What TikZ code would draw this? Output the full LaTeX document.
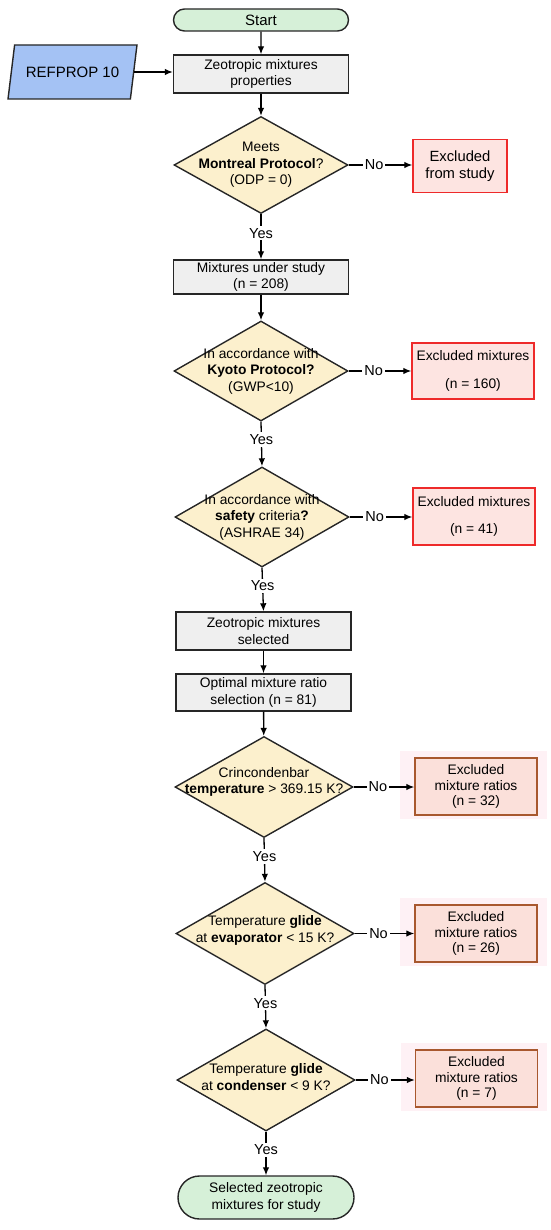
\documentclass[tikz,border=0pt]{standalone}
\usepackage{fontspec}
\setmainfont{Liberation Sans}
\usetikzlibrary{shapes.geometric,shapes.misc,arrows.meta,calc,backgrounds}

\definecolor{startg}{HTML}{D6F0D8}
\definecolor{boxg}{HTML}{EFEFEF}
\definecolor{diay}{HTML}{FCF0CD}
\definecolor{refb}{HTML}{A4C2F4}
\definecolor{exfill}{HTML}{FDE4E1}
\definecolor{exred}{HTML}{EE2A2A}
\definecolor{exbrown}{HTML}{A8582E}
\definecolor{exfilltwo}{HTML}{FBE0DA}
\definecolor{glowc}{HTML}{FEF1F5}

\begin{document}
\begin{tikzpicture}[x=1pt,y=-1pt,
 font=\fontsize{13.8}{16.5}\selectfont,
 every node/.style={inner sep=0pt},
 ln/.style={draw=black!85, line width=1.4pt},
 pill/.style={rounded rectangle, ln, fill=startg, align=center},
 procbox/.style={rectangle, ln, fill=boxg, align=center, minimum width=175pt},
 dia/.style={diamond, ln, fill=diay, minimum width=174pt, minimum height=100pt},
 diatext/.style={align=center},
 exbox/.style={rectangle, draw=exred, line width=1.4pt, fill=exfill, align=center, minimum width=122pt, minimum height=56pt},
 exboxb/.style={rectangle, draw=exbrown, line width=1.4pt, fill=exfilltwo, align=center, minimum width=122pt, minimum height=57pt, font=\fontsize{13.8}{15.5}\selectfont},
 arr/.style={draw=black, line width=1.3pt, -{Latex[length=8pt,width=6.5pt]}},
 lbl/.style={fill=white, inner sep=2pt, font=\fontsize{14.5}{16}\selectfont}
]
\useasboundingbox (0,0) rectangle (550,1230);

% nodes
\node[pill, minimum width=175pt, minimum height=22pt, font=\fontsize{15}{17}\selectfont] (start) at (261,20) {Start};
\node[trapezium, trapezium left angle=63.4, trapezium right angle=116.6, trapezium stretches=true, minimum width=129pt, minimum height=54pt, ln, fill=refb, font=\fontsize{15}{17}\selectfont] (ref) at (72.5,72) {REFPROP 10};
\node[procbox, minimum height=38pt] (b1) at (261,74) {Zeotropic mixtures\\properties};

\node[dia, minimum height=97pt] (d1) at (261,165) {};
\node[diatext] (d1t) at (d1) {Meets\\\textbf{Montreal Protocol}?\\(ODP = 0)};
\node[exbox, minimum width=94pt, minimum height=53pt, font=\fontsize{14.8}{16.5}\selectfont] (e1) at (460,166) {Excluded\\from study};

\node[procbox, minimum height=34pt] (b2) at (261,277) {Mixtures under study\\(n = 208)};

\node[dia] (d2) at (261,371) {};
\node[diatext] (d2t) at (d2) {In accordance with\\\textbf{Kyoto Protocol?}\\(GWP<10)};
\node[exbox] (e2) at (473,371) {Excluded mixtures\\[11pt](n = 160)};

\node[dia] (d3) at (262,517) {};
\node[diatext] (d3t) at (d3) {In accordance with\\\textbf{safety} criteria\textbf{?}\\(ASHRAE 34)};
\node[exbox, minimum height=57pt] (e3) at (474,516.5) {Excluded mixtures\\[11pt](n = 41)};

\node[procbox, minimum height=38pt] (b3) at (263.5,631) {Zeotropic mixtures\\selected};
\node[procbox, minimum height=37pt] (b4) at (263.5,692.5) {Optimal mixture ratio\\selection (n = 81)};

\node[dia, minimum width=178pt, minimum height=101pt] (d4) at (264,787) {};
\node[diatext] (d4t) at ($(d4)+(0,-5)$) {Crincondenbar\\\textbf{temperature} > 369.15 K?};
\node[exboxb] (e4) at (476,786.5) {Excluded\\mixture ratios\\(n = 32)};

\node[dia, minimum width=178pt, minimum height=102pt] (d5) at (265,933.5) {};
\node[diatext] (d5t) at ($(d5)+(0,-3)$) {Temperature \textbf{glide}\\at \textbf{evaporator} < 15 K?};
\node[exboxb] (e5) at (476,933.5) {Excluded\\mixture ratios\\(n = 26)};

\node[dia, minimum width=178pt, minimum height=102pt] (d6) at (266,1080) {};
\node[diatext] (d6t) at ($(d6)+(0,-3)$) {Temperature \textbf{glide}\\at \textbf{condenser} < 9 K?};
\node[exboxb] (e6) at (476.5,1078.5) {Excluded\\mixture ratios\\(n = 7)};

\node[pill, minimum width=176pt, minimum height=43pt] (end) at (266,1197.5) {Selected zeotropic\\mixtures for study};

% glows behind brown boxes
\begin{scope}[on background layer]
\foreach \e in {e4,e5,e6}{
  \fill[glowc] ($(\e.north west)+(-14,-6)$) rectangle ($(\e.south east)+(9,3)$);
}
\end{scope}

% connectors
\draw[arr] (start) -- (b1);
\draw[arr] (ref.east) -- (ref.east -| b1.west);
\draw[arr] (b1) -- (d1);
\draw[arr] (d1.east) -- node[lbl, pos=0.4] (no1) {No} (e1.west |- d1.east);
\draw[arr] (d1.south) -- node[lbl, pos=0.42] (yes1) {Yes} (b2.north);
\draw[arr] (b2) -- (d2);
\draw[arr] (d2.east) -- node[lbl, pos=0.4] (no2) {No} (e2.west |- d2.east);
\draw[arr] (d2.south) -- node[lbl, pos=0.4] (yes2) {Yes} (d3.north);
\draw[arr] (d3.east) -- node[lbl, pos=0.4] (no3) {No} (e3.west |- d3.east);
\draw[arr] (d3.south) -- node[lbl, pos=0.42] (yes3) {Yes} (b3.north);
\draw[arr] (b3) -- (b4);
\draw[arr] (b4) -- (d4);
\draw[arr] (d4.east) -- node[lbl, pos=0.4] (no4) {No} (e4.west |- d4.east);
\draw[arr] (d4.south) -- node[lbl, pos=0.42] (yes4) {Yes} (d5.north);
\draw[arr] (d5.east) -- node[lbl, pos=0.4] (no5) {No} (e5.west |- d5.east);
\draw[arr] (d5.south) -- node[lbl, pos=0.42] (yes5) {Yes} (d6.north);
\draw[arr] (d6.east) -- node[lbl, pos=0.4] (no6) {No} (e6.west |- d6.east);
\draw[arr] (d6.south) -- node[lbl, pos=0.42] (yes6) {Yes} (end.north);
\end{tikzpicture}
\end{document}
